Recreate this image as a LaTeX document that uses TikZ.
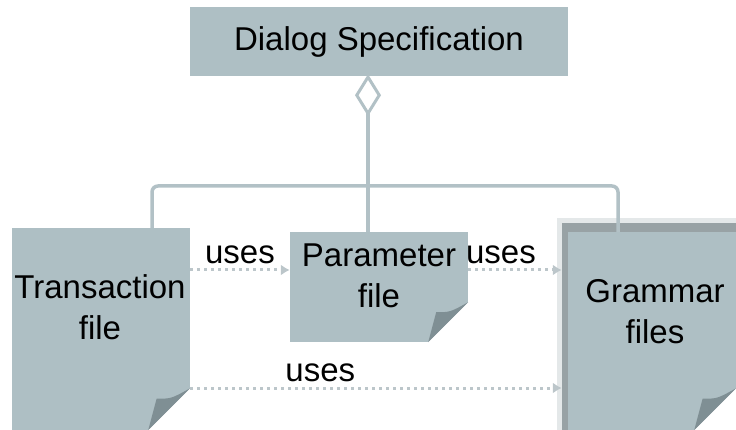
\documentclass[tikz,border=0pt]{standalone}
\usepackage{fontspec}
\setmainfont{Liberation Sans}
\usetikzlibrary{arrows.meta}
\usetikzlibrary{calc}

\definecolor{pagefill}{HTML}{AEBFC4}
\definecolor{linkgray}{HTML}{B2C1C6}
\definecolor{dotgray}{HTML}{BCC6CA}
\definecolor{foldgray}{HTML}{7F8F94}
\definecolor{backlight}{HTML}{E4E8E9}
\definecolor{backdark}{HTML}{98A2A5}

% dog-ear at the lower right corner of a page node
\newcommand{\pagefold}[2]{%
  \fill[white] ([yshift=#2pt]#1.south east) -- ([yshift=-1pt,xshift=1pt]#1.south east) -- ([xshift=-#2pt]#1.south east) -- cycle;
  \fill[foldgray] ([yshift=#2pt]#1.south east)
    .. controls ([xshift=-0.45*#2pt,yshift=0.75*#2pt]#1.south east) .. ([xshift=-0.8*#2pt,yshift=0.75*#2pt]#1.south east)
    -- ([xshift=-#2pt]#1.south east) -- cycle;
}

\begin{document}
\begin{tikzpicture}[x=1pt,y=-1pt,
  every node/.style={font=\fontsize{33}{41}\selectfont},
  box/.style={fill=pagefill, inner sep=0pt},
  doc/.style={fill=pagefill, inner sep=0pt},
  link/.style={draw=linkgray, line width=3.5pt, rounded corners=6pt},
  uses/.style={draw=dotgray, line width=3pt, dash pattern=on 3pt off 4pt, -{Latex[length=9pt,width=11pt]}}]
  \useasboundingbox (0,0) rectangle (736,430);

  \node[box, minimum width=378pt, minimum height=69pt] (spec) at (379,41.5) {Dialog Specification};

  \node[doc, minimum width=178pt, minimum height=202pt] (trans) at (101,329) {};
  \node[doc, minimum width=178pt, minimum height=110pt] (param) at (379,287) {};
  % grammar files: stacked pages
  \fill[backlight] (557,218) rectangle (736,430);
  \fill[backdark] (562,223) rectangle (736,430);
  \node[doc, minimum width=168pt, minimum height=198pt] (gram) at (652,331) {};

  \pagefold{trans}{42}
  \pagefold{param}{40}
  \pagefold{gram}{42}

  \node[align=center] (transtxt) at (100,307) {Transaction\\file};
  \node[align=center] (paramtxt) at (379,276) {Parameter\\file};
  \node[align=center] (gramtxt) at (655,312) {Grammar\\files};

  % aggregation
  \coordinate (hub) at (368,186);
  \draw[link, {Diamond[open, length=42pt, width=26pt, line width=3pt]}-] ([yshift=2pt]spec.south -| hub) -- (param.north -| hub);
  \draw[link] (trans.north -| 152,0) |- (hub) -| (gram.north -| 618,0);

  % uses
  \draw[uses] ([yshift=17pt]param.west -| trans.east) -- node[pos=0.5, above=1pt] (u1) {uses} ([yshift=17pt]param.west);
  \draw[uses] ([yshift=17pt]param.east) -- node[pos=0.35, above=1pt] (u2) {uses} ([yshift=17pt,xshift=-6pt]param.east -| gram.west);
  \draw[uses] ([yshift=-59pt]trans.east) -- node[pos=0.35, above=1pt] (u3) {uses} ([yshift=-59pt,xshift=-6pt]trans.east -| gram.west);
\end{tikzpicture}
\end{document}
